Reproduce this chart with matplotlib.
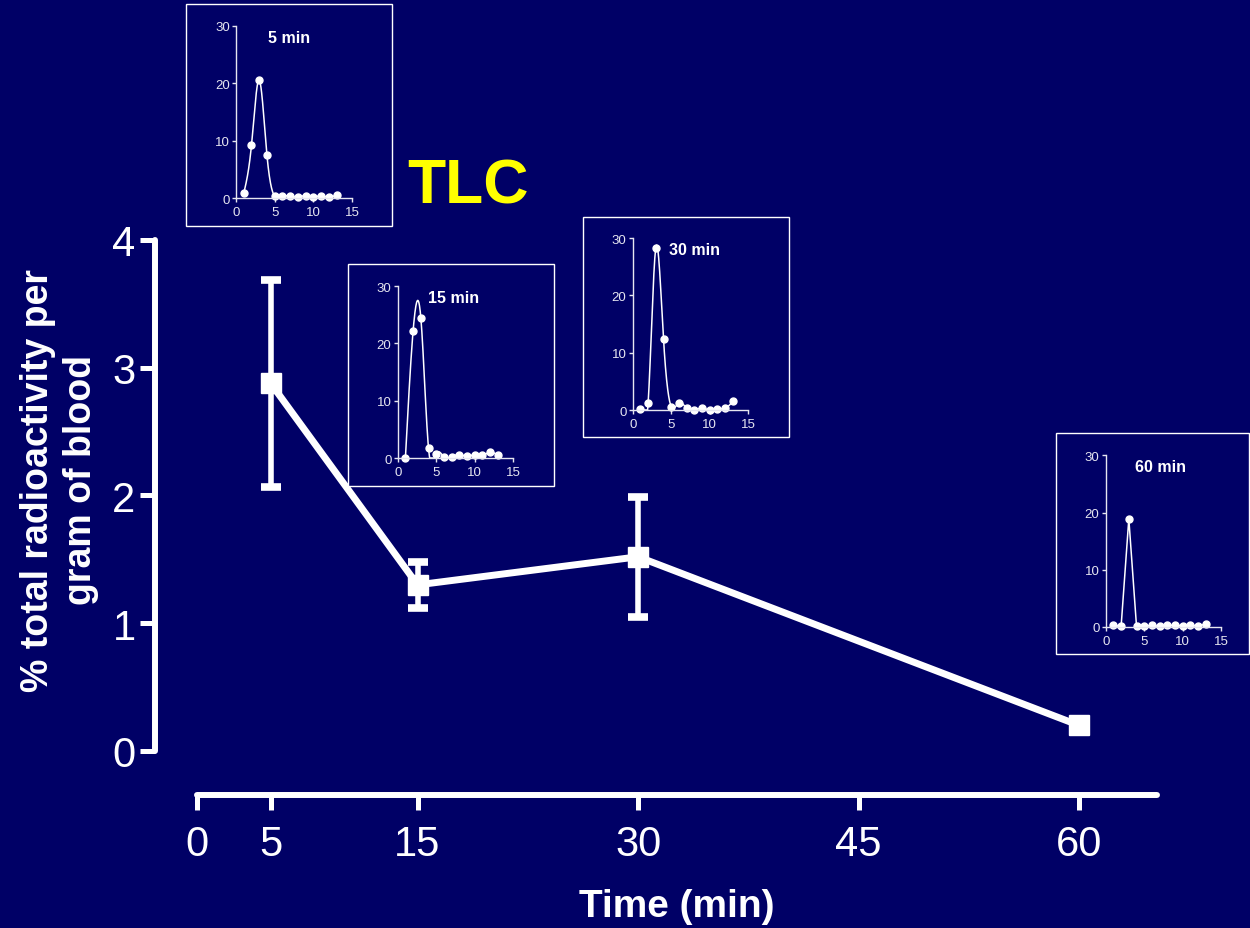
import numpy as np
import matplotlib
matplotlib.use("Agg")
import matplotlib.pyplot as plt
from matplotlib.patches import Rectangle

# main curve: blood radioactivity over time
times = [5, 15, 30, 60]
means = [2.88, 1.30, 1.52, 0.20]
errs = [0.81, 0.18, 0.47, 0.0]
x_ticks = [0, 5, 15, 30, 45, 60]
y_ticks = [0, 1, 2, 3, 4]

# TLC chromatograms (fraction number vs % radioactivity)
fractions = list(range(1, 14))
tlc_5 = [0.8, 9.2, 20.6, 7.5, 0.3, 0.3, 0.3, 0.2, 0.4, 0.2, 0.4, 0.1, 0.6]
tlc_15 = [0.0, 22.2, 24.5, 1.7, 0.7, 0.2, 0.2, 0.6, 0.3, 0.6, 0.5, 1.0, 0.5]
tlc_30 = [0.2, 1.2, 28.3, 12.3, 0.6, 1.3, 0.3, 0.0, 0.3, 0.0, 0.2, 0.3, 1.5]
tlc_60 = [0.3, 0.1, 18.9, 0.1, 0.1, 0.3, 0.1, 0.3, 0.3, 0.2, 0.3, 0.2, 0.5]

BG = "#000066"
W, H = 1250, 929

plt.rcParams["font.family"] = ["Liberation Sans", "DejaVu Sans"]

fig = plt.figure(figsize=(W / 100, H / 100), dpi=100)
fig.patch.set_facecolor(BG)


def fbox(left, top, right, bottom):
    # pixel box -> figure fraction [l, b, w, h]
    return [left / W, 1 - bottom / H, (right - left) / W, (bottom - top) / H]


def spline(x, y, n=400):
    # natural cubic spline, used only to draw the smooth connecting line
    x = np.asarray(x, float)
    y = np.asarray(y, float)
    h = np.diff(x)
    k = len(x)
    A = np.zeros((k, k))
    r = np.zeros(k)
    A[0, 0] = A[-1, -1] = 1
    for i in range(1, k - 1):
        A[i, i - 1] = h[i - 1]
        A[i, i] = 2 * (h[i - 1] + h[i])
        A[i, i + 1] = h[i]
        r[i] = 3 * ((y[i + 1] - y[i]) / h[i] - (y[i] - y[i - 1]) / h[i - 1])
    c = np.linalg.solve(A, r)
    xs = np.linspace(x[0], x[-1], n)
    idx = np.clip(np.searchsorted(x, xs) - 1, 0, k - 2)
    dx = xs - x[idx]
    b = (y[idx + 1] - y[idx]) / h[idx] - h[idx] * (2 * c[idx] + c[idx + 1]) / 3
    d = (c[idx + 1] - c[idx]) / (3 * h[idx])
    ys = y[idx] + b * dx + c[idx] * dx ** 2 + d * dx ** 3
    return xs, np.maximum(ys, 0)


# ---- main axes ----
ax = fig.add_axes(fbox(155, 241, 1157, 796))
ax.set_facecolor(BG)
ax.set_xlim(-2.86, 65.3)
ax.set_ylim(-0.345, 4.0)
for s in ["top", "right"]:
    ax.spines[s].set_visible(False)
for s in ["left", "bottom"]:
    ax.spines[s].set_color("white")
    ax.spines[s].set_linewidth(4.3)
    ax.spines[s].set_capstyle("round")
ax.spines["left"].set_bounds(0, 4)
ax.spines["bottom"].set_bounds(0, 65.3)
ax.set_xticks(x_ticks)
ax.set_yticks(y_ticks)
ax.tick_params(colors="white", labelcolor="white", width=3.6, length=11, labelsize=30)
ax.tick_params(axis="x", pad=10)
ax.tick_params(axis="y", pad=3)

ax.plot(times, means, color="white", lw=5, marker="s", ms=14, solid_capstyle="round",
        clip_on=False, zorder=4)
has_err = [i for i, e in enumerate(errs) if e > 0]
ax.errorbar([times[i] for i in has_err], [means[i] for i in has_err],
            yerr=[errs[i] for i in has_err], fmt="none", ecolor="white",
            elinewidth=4, capsize=7.5, capthick=5.5, clip_on=False, zorder=3)

fig.text(677 / W, 1 - 907 / H, "Time (min)", color="white", fontsize=28,
         fontweight="bold", ha="center", va="center")
fig.text(60 / W, 1 - 480 / H, "% total radioactivity per\ngram of blood", color="white",
         fontsize=27, fontweight="bold", rotation=90, ha="center", va="center",
         multialignment="center", linespacing=1.25)
fig.text(468 / W, 1 - 187 / H, "TLC", color="#FFFF00", fontsize=45,
         fontweight="bold", ha="center", va="center")

# ---- insets ----
insets = [
    ((186, 5, 392, 227), (236, 27, 352, 199), tlc_5, "5 min", 6.85, True),
    ((348, 265, 554, 487), (397.7, 287, 513.3, 459), tlc_15, "15 min", 7.2, True),
    ((583, 218, 789, 438), (632.7, 239, 748.3, 411), tlc_30, "30 min", 8.0, True),
    ((1056, 434, 1249, 655), (1105.7, 456.3, 1221.3, 628), tlc_60, "60 min", 7.1, False),
]
for box, pos, vals, title, tx, smooth in insets:
    l, t, r, b = box
    fig.patches.append(Rectangle((l / W, 1 - b / H), (r - l) / W, (b - t) / H,
                                 transform=fig.transFigure, facecolor=BG,
                                 edgecolor="white", lw=1.0, zorder=5))
    ia = fig.add_axes(fbox(*pos), zorder=6)
    ia.set_facecolor("none")
    ia.set_xlim(0, 15)
    ia.set_ylim(0, 30)
    for s in ["top", "right"]:
        ia.spines[s].set_visible(False)
    for s in ["left", "bottom"]:
        ia.spines[s].set_color("#e6e6f0")
        ia.spines[s].set_linewidth(1.0)
    ia.set_xticks([0, 5, 10, 15])
    ia.set_yticks([0, 10, 20, 30])
    ia.tick_params(colors="#e6e6f0", labelcolor="#e6e6f0", length=3, width=1,
                   labelsize=9.5, pad=1.5)
    ia.tick_params(axis="x", pad=2.5)
    if smooth:
        xs, ys = spline(fractions, vals)
        ia.plot(xs, ys, color="white", lw=1.1, clip_on=False)
    else:
        ia.plot(fractions, vals, color="white", lw=1.1, clip_on=False)
    ia.plot(fractions, vals, "o", color="white", ms=5, clip_on=False)
    ia.text(tx, 28, title, color="white", fontsize=11.5, fontweight="bold",
            ha="center", va="center")

fig.savefig("out.png", dpi=100, facecolor=BG)
